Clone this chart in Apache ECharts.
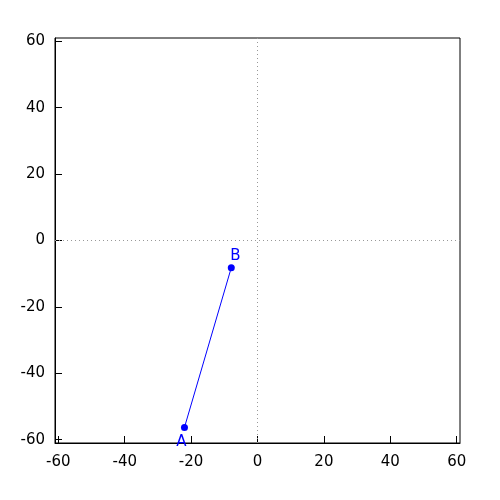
<!DOCTYPE html>
<html><head><meta charset="utf-8">
<script src="https://cdn.jsdelivr.net/npm/echarts@6/dist/echarts.min.js"></script>
<style>html,body{margin:0;padding:0;background:#fff}#c{width:500px;height:500px}</style>
</head><body><div id="c"></div>
<script>
const pointNames = ['A', 'B'];
const xValues = [-22.0, -7.9];
const yValues = [-56.3, -8.2];
const tickValues = [-60, -40, -20, 0, 20, 40, 60];
const axisMin = -61, axisMax = 61;

const chart = echarts.init(document.getElementById('c'), null, {renderer: 'canvas'});
const font = {fontFamily: 'DejaVu Sans', fontSize: 15, color: '#000'};
function axis(isX) {
  return {
    type: 'value', min: axisMin, max: axisMax,
    axisLine: {show: true, onZero: false, lineStyle: {color: '#000', width: 1}},
    axisTick: {show: true, inside: true, length: 7, customValues: tickValues, lineStyle: {color: '#000'}},
    axisLabel: Object.assign({customValues: tickValues, margin: isX ? 12 : 10, padding: isX ? 0 : [4, 0, 0, 0], showMinLabel: true, showMaxLabel: true}, font),
    splitLine: {show: false}
  };
}
const labelOffsets = [[-3, 0], [4, 3]];
const labelPos = ['bottom', 'top'];
chart.setOption({
  animation: false,
  grid: {left: 55, right: 40, top: 38, bottom: 57, show: true, borderColor: '#000', borderWidth: 1, backgroundColor: 'transparent'},
  xAxis: axis(true),
  yAxis: axis(false),
  series: [{
    type: 'line',
    data: pointNames.map((n, i) => ({
      name: n, value: [xValues[i], yValues[i]],
      label: {show: true, formatter: n, position: labelPos[i], offset: labelOffsets[i], distance: 4, color: '#0000ff', fontFamily: 'DejaVu Sans', fontSize: 15}
    })),
    symbol: 'circle', symbolSize: 7,
    itemStyle: {color: '#0000ff'},
    lineStyle: {color: '#0000ff', width: 1},
    markLine: {
      silent: true, symbol: 'none', label: {show: false},
      lineStyle: {color: '#999', type: [1, 3], width: 1},
      data: [{xAxis: 0}, {yAxis: 0}]
    }
  }]
});
</script></body></html>
